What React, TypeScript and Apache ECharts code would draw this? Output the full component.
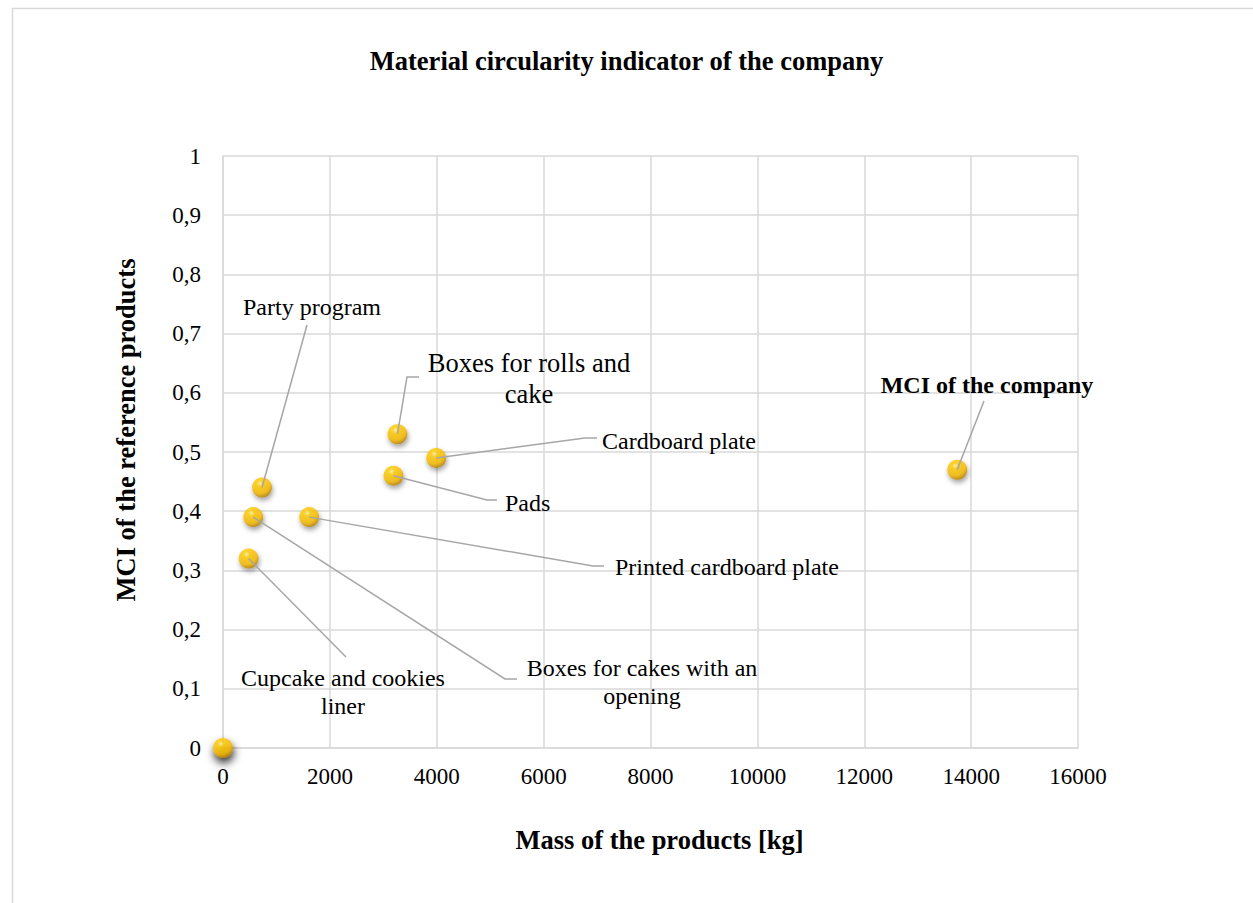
import React, { useEffect, useRef } from 'react';
import * as echarts from 'echarts';

// ---- data ----
const massKg = [0, 480, 566, 730, 1613, 3190, 3265, 3990, 13740];
const mciValues = [0, 0.32, 0.39, 0.44, 0.39, 0.46, 0.53, 0.49, 0.47];
const pointLabels = [
  '',
  'Cupcake and cookies\nliner',
  'Boxes for cakes with an\nopening',
  'Party program',
  'Printed cardboard plate',
  'Pads',
  'Boxes for rolls and\ncake',
  'Cardboard plate',
  'MCI of the company',
];
const xTickMax = 16000;
const xTickStep = 2000;
const yTickMax = 1;
const yTickStep = 0.1;

// ---- annotation layout (pixels) ----
type Ann = { x: number; y: number; align: string; size: number; lh: number; bold?: boolean; guide: number[][] } | null;
const annLayout: Ann[] = [
  null,
  { x: 343, y: 692, align: 'center', size: 24, lh: 28, guide: [[346, 657]] },
  { x: 642, y: 682, align: 'center', size: 24, lh: 28, guide: [[505, 679], [517, 679]] },
  { x: 312, y: 307, align: 'center', size: 24, lh: 28, guide: [[307, 325]] },
  { x: 615, y: 567, align: 'left', size: 24, lh: 28, guide: [[593, 566], [604, 566]] },
  { x: 505, y: 503, align: 'left', size: 24, lh: 28, guide: [[487, 500], [497, 500]] },
  { x: 529, y: 378, align: 'center', size: 26.5, lh: 31, guide: [[407, 377], [419, 377]] },
  { x: 602, y: 441, align: 'left', size: 24, lh: 28, guide: [[585, 438], [597, 438]] },
  { x: 987, y: 385, align: 'center', size: 24, lh: 28, bold: true, guide: [[984, 401]] },
];

const FONT = '"Liberation Serif", "Times New Roman", serif';

export default function App() {
  const ref = useRef<HTMLDivElement>(null);
  useEffect(() => {
    if (!ref.current) return;
    const chart = echarts.init(ref.current, null, { renderer: 'svg' });
    const ball = new echarts.graphic.RadialGradient(0.4, 0.3, 0.72, [
      { offset: 0, color: '#FFF0A0' },
      { offset: 0.22, color: '#FFCC00' },
      { offset: 0.7, color: '#F5B800' },
      { offset: 1, color: '#B07C00' },
    ]);
    const data = massKg.map((m, i) => {
      const item: any = { value: [m, mciValues[i]], name: pointLabels[i] };
      if (i === 0) {
        item.itemStyle = {
          shadowColor: 'rgba(0,0,0,1)',
          shadowBlur: 8,
          shadowOffsetX: 1,
          shadowOffsetY: 5,
        };
      }
      return item;
    });
    const axisLineStyle = { color: '#d9d9d9', width: 1.5 };
    const option: any = {
      animation: false,
      backgroundColor: '#ffffff',
      title: {
        text: 'Material circularity indicator of the company',
        left: 'center',
        top: 42,
        textStyle: { fontFamily: FONT, fontSize: 26.5, fontWeight: 'bold', color: '#000' },
      },
      grid: { left: 223, right: 175, top: 156, bottom: 155 },
      xAxis: {
        type: 'value',
        min: 0,
        max: xTickMax,
        interval: xTickStep,
        name: 'Mass of the products [kg]',
        nameLocation: 'middle',
        nameGap: 78,
        nameTextStyle: { fontFamily: FONT, fontSize: 26.5, fontWeight: 'bold', color: '#000', padding: [0, 0, 0, 18] },
        axisLine: { show: true, lineStyle: axisLineStyle },
        axisTick: { show: false },
        splitLine: { show: true, lineStyle: axisLineStyle },
        axisLabel: {
          fontFamily: FONT,
          fontSize: 23,
          color: '#000',
          margin: 17,
          formatter: (v: number) => String(v),
        },
      },
      yAxis: {
        type: 'value',
        min: 0,
        max: yTickMax,
        interval: yTickStep,
        name: 'MCI of the reference products',
        nameLocation: 'middle',
        nameGap: 84,
        nameRotate: 90,
        nameTextStyle: { fontFamily: FONT, fontSize: 26.5, fontWeight: 'bold', color: '#000', padding: [0, 0, 0, 44] },
        axisLine: { show: true, lineStyle: axisLineStyle },
        axisTick: { show: false },
        splitLine: { show: true, lineStyle: axisLineStyle },
        axisLabel: {
          fontFamily: FONT,
          fontSize: 23,
          color: '#000',
          margin: 22,
          formatter: (v: number) => String(+v.toFixed(1)).replace('.', ','),
        },
      },
      series: [
        {
          type: 'scatter',
          symbol: 'circle',
          symbolSize: 20,
          data,
          itemStyle: {
            color: ball,
            shadowColor: 'rgba(0,0,0,0.45)',
            shadowBlur: 5,
            shadowOffsetX: 1,
            shadowOffsetY: 3,
          },
          z: 3,
        },
      ],
    };
    chart.setOption(option);

    const gfx: any[] = [
      {
        type: 'rect',
        silent: true,
        z: 0,
        shape: { x: 12.5, y: 8.5, width: 1400, height: 1000 },
        style: { fill: 'none', stroke: '#d9d9d9', lineWidth: 1.5 },
      },
    ];
    annLayout.forEach((a, i) => {
      if (!a) return;
      const p = chart.convertToPixel({ gridIndex: 0 }, [massKg[i], mciValues[i]]) as number[];
      gfx.push({
        type: 'polyline',
        silent: true,
        z: 50,
        shape: { points: [p, ...a.guide] },
        style: { fill: 'none', stroke: '#a6a6a6', lineWidth: 1.5 },
      });
      gfx.push({
        type: 'text',
        silent: true,
        z: 50,
        x: a.x,
        y: a.y,
        style: {
          text: pointLabels[i],
          fill: '#000',
          fontFamily: FONT,
          fontSize: a.size,
          fontWeight: a.bold ? 'bold' : 'normal',
          lineHeight: a.lh,
          align: a.align,
          verticalAlign: 'middle',
        },
      });
    });
    chart.setOption({ graphic: gfx });

    return () => chart.dispose();
  }, []);
  return (
    <div
      ref={ref}
      style={{ position: 'absolute', left: 0, top: 0, width: 1253, height: 903 }}
    />
  );
}
